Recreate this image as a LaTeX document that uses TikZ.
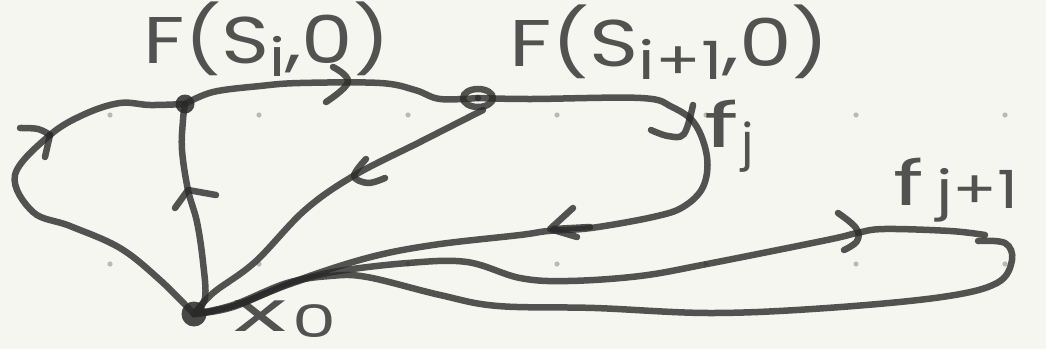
\documentclass[tikz,border=0pt]{standalone}
\usepackage{fontspec}
\usepackage{graphicx}
\setmainfont{Poppins}
\usetikzlibrary{shapes.geometric}
\definecolor{bg}{HTML}{F6F6F1}
\definecolor{ink}{HTML}{2A2A2A}
\definecolor{griddot}{HTML}{B9B9B6}
\newcommand\subtxt[1]{\raisebox{-0.2em}{\scalebox{0.8}{#1}}}
\newcommand\hs[2]{\scalebox{#1}[1]{#2}}
\tikzset{
  pen/.style={draw=ink, draw opacity=0.8, line width=6.5pt, line cap=round, line join=round},
  conn/.style={pen},
  chev/.style={pen},
  dotnode/.style={circle, fill=ink, fill opacity=0.85, inner sep=0pt, minimum size=#1},
  ringnode/.style={ellipse, pen, inner sep=0pt, minimum width=30pt, minimum height=18pt},
  lab/.style={text=ink, text opacity=0.8, inner sep=0pt, anchor=base west, font=\fontsize{#1}{#1}\selectfont},
  gdot/.style={fill=griddot}
}
\begin{document}
\begin{tikzpicture}[x=1pt,y=-1pt]
\useasboundingbox (0,0) rectangle (1046,349);
\fill[bg] (0,0) rectangle (1046,349);
% grid dots
\foreach \gx in {110,259,408,557,706,856,1005}
  \foreach \gy in {115,264}
    \fill[gdot] (\gx,\gy) circle (2.6pt);

% nodes
\node[dotnode=19pt] (A) at (185,104) {};
\node[dotnode=25pt] (X) at (194,314) {};
\node[ringnode] (B) at (478,98) {};

% left loop x0 -> A
\draw[conn] plot[smooth, tension=0.6] coordinates {(X) (160,280) (120,248) (70,226) (33,212) (15,175) (50,135) (85,114) (120,103) (150,105) (A)};
\draw[chev] plot[smooth, tension=0.6] coordinates {(20,128) (38,129) (50,135)};
\draw[chev] (50,135) -- (45,157);

% vertical x0 -> A
\draw[conn] plot[smooth, tension=0.6] coordinates {(X) (205,298) (203,262) (197,222) (188,190) (182,150) (183,120) (A)};
\draw[chev] (175,208) -- (188,190) -- (216,195);

% top A -> B
\draw[conn] plot[smooth, tension=0.6] coordinates {(A) (213,92) (260,86) (300,83) (380,83) (415,90) (440,99) (B)};
\draw[chev] plot[smooth, tension=0.7] coordinates {(333,67) (348,82) (326,102)};

% diagonal B -> x0
\draw[conn] plot[smooth, tension=0.6] coordinates {(483,110) (420,142) (355,175) (305,210) (255,262) (213,293) (X)};
\draw[chev] plot[smooth, tension=0.6] coordinates {(366,159) (354,176) (368,183) (385,178)};

% f_j loop B -> x0
\draw[conn] plot[smooth, tension=0.6] coordinates {(B) (530,99) (641,98) (672,107) (695,124) (707,157) (703,187) (683,207) (653,217) (591,228) (548,231) (520,235) (433,245) (367,258) (293,282) (233,307) (X)};
\draw[chev] plot[smooth, tension=0.6] coordinates {(651,130) (668,136) (684,134) (693,105)};
\draw[chev] (573,208) -- (550,229) -- (577,237);
\draw[chev] (553,229) -- (590,227);

% f_{j+1} loop x0 -> right -> x0
\draw[conn] plot[smooth, tension=0.6] coordinates {(X) (233,306) (290,284) (333,272) (408,263) (467,262) (520,278) (568,281) (640,276) (707,264) (827,240) (857,233) (884,229) (950,231) (985,235)};
\draw[conn] plot[smooth, tension=0.6] coordinates {(978,241) (1005,243) (1012,260) (997,283) (942,297) (827,308) (711,313) (595,308) (498,306) (440,295) (367,277) (330,276) (287,283) (233,305) (X)};
\draw[chev] plot[smooth, tension=0.7] coordinates {(838,213) (856,228) (857,241) (844,250)};

% labels
\node[lab=66] (L1) at (143,63) {\hs{1.24}{F(S\subtxt{i},0)}};
\node[lab=66] (L2) at (509,66) {\hs{1.27}{F(S\subtxt{i+1},0)}};
\node[lab=62] (L3) at (704,147) {\hs{1.7}{f}\hspace{0.05em}\subtxt{j}};
\node[lab=62] (L4) at (893,205) {\hs{1.5}{f}\hspace{0.2em}\raisebox{-0.05em}{\hs{1.25}{\scalebox{0.85}{j+1}}}};
\node[lab=56] (L5) at (233,331) {\hs{2.0}{x}\hspace{0.1em}\raisebox{-0.12em}{\scalebox{1.25}[0.8]{0}}};
\end{tikzpicture}
\end{document}
